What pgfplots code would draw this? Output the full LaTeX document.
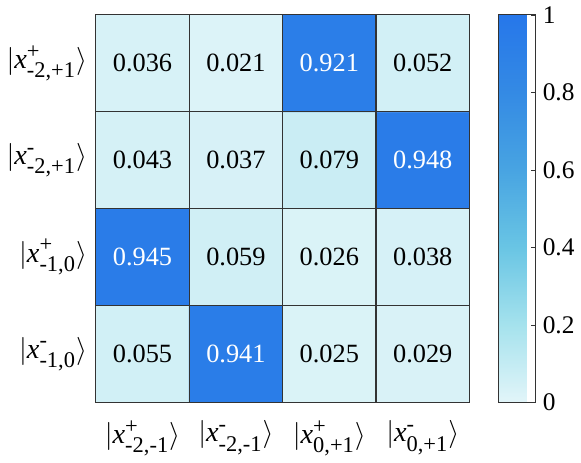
\documentclass[border=0pt]{standalone}
\usepackage{amsmath}
\usepackage{fontspec}
\setmainfont{Liberation Serif}
\usepackage{pgfplots}
\pgfplotsset{compat=1.18}
\usepackage{pgfplotstable}

% x y value (y=3 is the top row)
\pgfplotstableread{
x y v
0 0 0.055
1 0 0.941
2 0 0.025
3 0 0.029
0 1 0.945
1 1 0.059
2 1 0.026
3 1 0.038
0 2 0.043
1 2 0.037
2 2 0.079
3 2 0.948
0 3 0.036
1 3 0.021
2 3 0.921
3 3 0.052
}\probs

\newcommand{\scr}[1]{\hbox{\fontsize{11.5}{12}\selectfont #1}}
\DeclareRobustCommand{\ket}[2]{$|\textit{x}^{\scr{#1}}_{\scr{#2}}\rangle$}

\begin{document}
\begin{tikzpicture}
\begin{axis}[
    width=191.5pt, height=198.5pt, scale only axis,
    xmin=-0.5, xmax=3.5, ymin=-0.5, ymax=3.5,
    enlargelimits=false,
    xtick={0,1,2,3}, ytick={0,1,2,3},
    xticklabels={{\ket{+}{-2,-1}}, {\ket{-}{-2,-1}}, {\ket{+}{0,+1}}, {\ket{-}{0,+1}}},
    yticklabels={{\ket{-}{-1,0}}, {\ket{+}{-1,0}}, {\ket{-}{-2,+1}}, {\ket{+}{-2,+1}}},
    major tick length=0pt,
    minor xtick={0.5,1.5,2.5}, minor ytick={0.5,1.5,2.5},
    minor tick length=0pt,
    xminorgrids, yminorgrids,
    minor grid style={black!80, line width=0.6pt},
    axis line style={black!80, line width=0.6pt},
    axis on top,
    tick label style={font=\fontsize{14.5}{16}\selectfont},
    xticklabel style={yshift=-6pt},
    yticklabel style={xshift=-1pt},
    /pgf/number format/assume math mode=true,
    colormap={blues}{
        rgb255(0cm)=(226,245,249);
        rgb255(1cm)=(165,226,237);
        rgb255(2cm)=(105,197,228);
        rgb255(3cm)=(72,164,226);
        rgb255(4cm)=(52,138,228);
        rgb255(5cm)=(38,119,234)
    },
    point meta min=0, point meta max=1,
    colorbar,
    colorbar style={
        width=19pt,
        at={(parent axis.north east)}, anchor=north west, xshift=6.5pt,
        ytick={0,0.2,0.4,0.6,0.8,1},
        yticklabel style={font=\fontsize{13}{14}\selectfont, xshift=0pt,
            /pgf/number format/assume math mode=true},
        major tick length=2.5pt, tick align=inside,
        ytick pos=right, yticklabel pos=right,
        tick style={black!80},
        axis line style={black!80, line width=0.6pt},
    },
]
\addplot[matrix plot*, mesh/cols=4, point meta=explicit]
    table[x=x, y=y, meta=v] {\probs};
\addplot[only marks, mark=none, point meta=\thisrow{v},
    restrict expr to domain={\thisrow{v}}{0:0.5},
    nodes near coords={\pgfmathprintnumber[fixed, precision=3, zerofill]{\pgfplotspointmeta}},
    every node near coord/.append style={anchor=center, text=black,
        font=\fontsize{13.5}{15}\selectfont}]
    table[x=x, y=y] {\probs};
\addplot[only marks, mark=none, point meta=\thisrow{v},
    restrict expr to domain={\thisrow{v}}{0.5:1},
    nodes near coords={\pgfmathprintnumber[fixed, precision=3, zerofill]{\pgfplotspointmeta}},
    every node near coord/.append style={anchor=center, text=white,
        font=\fontsize{13.5}{15}\selectfont}]
    table[x=x, y=y] {\probs};
\end{axis}
\end{tikzpicture}
\end{document}
